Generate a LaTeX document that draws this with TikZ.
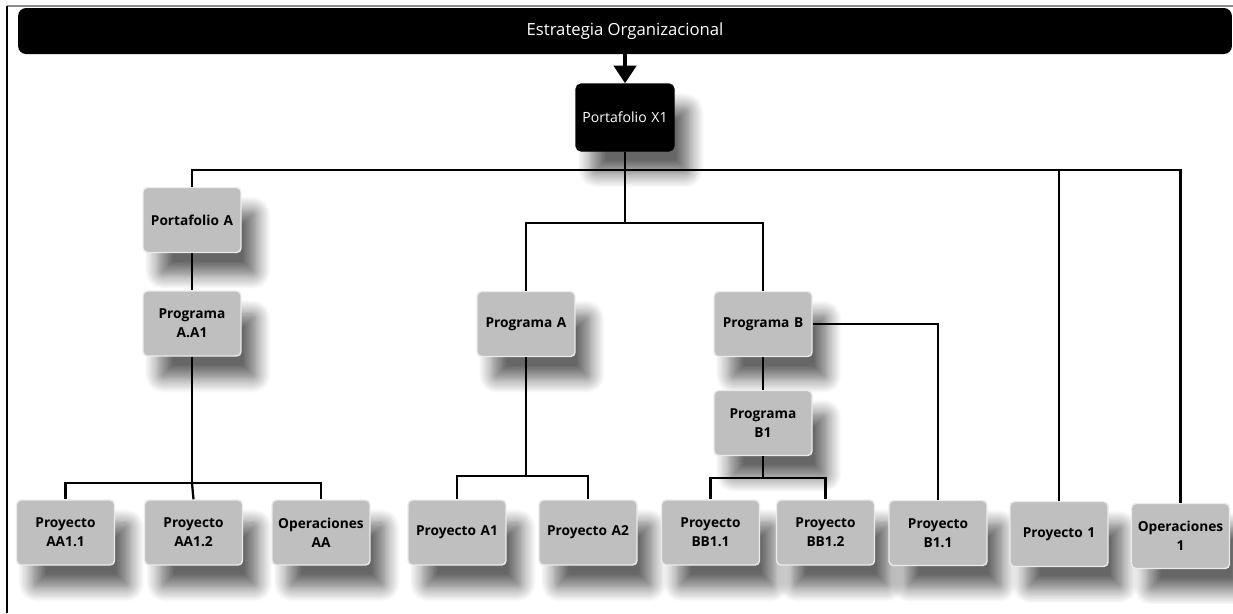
\documentclass[tikz,border=0pt]{standalone}
\usepackage{fontspec}
\setmainfont{Open Sans}
\usetikzlibrary{arrows.meta,shadows.blur,positioning}

\begin{document}
\begin{tikzpicture}[x=0.02cm, y=-0.02cm,
		barra/.style={fill=black, text=white, rounded corners=4.5pt, minimum width=24.28cm, minimum height=0.92cm, font=\fontsize{9.5}{11}\selectfont},
		caja/.style={fill=black!25, draw=black!8, line width=0.8pt, rounded corners=2.5pt, minimum width=1.96cm, minimum height=1.3cm, text width=1.85cm, align=center, inner sep=1pt, font=\fontsize{7.8}{10.8}\selectfont\bfseries,
			blur shadow={shadow xshift=9pt, shadow yshift=-13pt, shadow blur radius=8pt, shadow blur steps=12, shadow opacity=60}},
		cajanegra/.style={caja, fill=black, draw=black, text=white, rounded corners=3pt, minimum height=1.34cm, font=\fontsize{8}{10}\selectfont},
		linea/.style={line width=1.3pt, black}]
			\useasboundingbox (0,0) rectangle (1233,613);
			
			% Marco
			\draw[black!45, line width=1pt] (7,6) -- (1233,6);
			\draw[black, line width=1.3pt] (7,6) -- (7,613);
			
			% Estrategia y portafolio principal
			\node[barra] (estr) at (625,31) {Estrategia Organizacional};
			\node[cajanegra] (x1) at (625,117.5) {Portafolio X1};
			
			% Segundo nivel
			\node[caja] (pa) at (192,220) {Portafolio A};
			\node[caja] (paa1) at (192,323.5) {Programa\\A.A1};
			\node[caja] (pA) at (526,324) {Programa A};
			\node[caja] (pB) at (763,324) {Programa B};
			\node[caja] (pB1) at (763,423) {Programa\\B1};
			
			% Fila inferior
			\node[caja] (aa11) at (65.5,532.5) {Proyecto\\AA1.1};
			\node[caja] (aa12) at (193.5,532.5) {Proyecto\\AA1.2};
			\node[caja] (opAA) at (321,532.5) {Operaciones\\AA};
			\node[caja] (a1) at (457,532.5) {Proyecto A1};
			\node[caja] (a2) at (588,532.5) {Proyecto A2};
			\node[caja] (bb11) at (710.5,532.5) {Proyecto\\BB1.1};
			\node[caja] (bb12) at (825.5,532.5) {Proyecto\\BB1.2};
			\node[caja] (b11) at (938,533) {Proyecto\\B1.1};
			\node[caja] (p1) at (1059,534) {Proyecto 1};
			\node[caja] (op1) at (1180.5,536) {Operaciones\\1};
			
			% Flecha
			\draw[line width=2.4pt, -{Triangle[width=12.5pt, length=10pt]}] (estr.south) -- (x1.north);
			
			% Conectores
			\draw[linea] (x1.south) -- ++(0,18) coordinate (j0) -| (pa.north);
			\draw[linea] (j0) -| (p1.north);
			\draw[linea] (j0) -| (op1.north);
			\draw[linea] (j0) -- ++(0,53) coordinate (j1) -| (pA.north);
			\draw[linea] (j1) -| (pB.north);
			\draw[linea] (pa.south) -- (paa1.north);
			\draw[linea] (paa1.south) -- ++(0,126.5) coordinate (jAA) -| (aa11.north);
			\draw[linea] (jAA) -| (opAA.north);
			\draw[linea] (jAA) -- (aa12.north);
			\draw[linea] (pA.south) -- ++(0,119) coordinate (jA) -| (a1.north);
			\draw[linea] (jA) -| (a2.north);
			\draw[linea] (pB.south) -- (pB1.north);
			\draw[linea] (pB.east) -| (b11.north);
			\draw[linea] (pB1.south) -- ++(0,22) coordinate (jB1) -| (bb11.north);
			\draw[linea] (jB1) -| (bb12.north);
		\end{tikzpicture}
\end{document}
